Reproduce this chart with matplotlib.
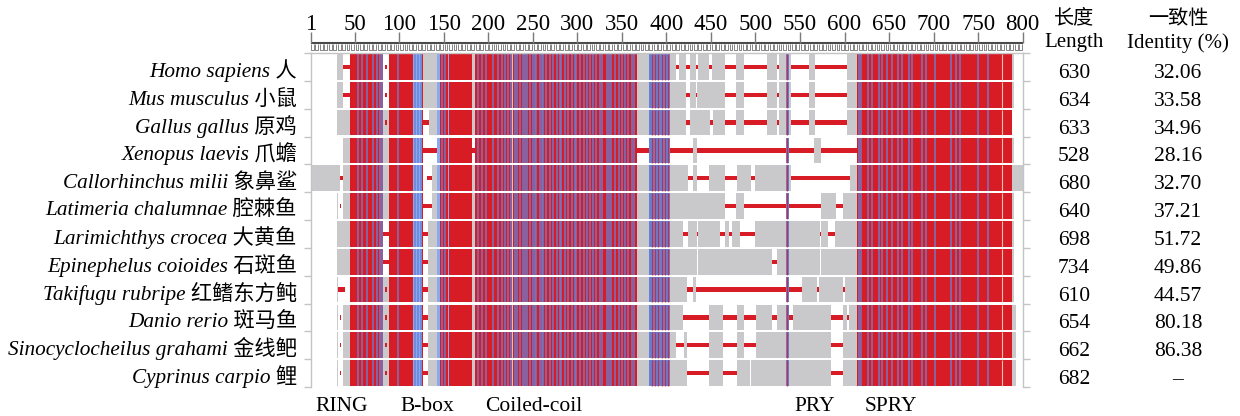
import matplotlib.pyplot as plt
from matplotlib.collections import LineCollection

plt.rcParams['font.family'] = ['Liberation Serif', 'Noto Sans CJK SC']

# species, lengths and identity (%)
species = ["Homo sapiens", "Mus musculus", "Gallus gallus", "Xenopus laevis",
           "Callorhinchus milii", "Latimeria chalumnae", "Larimichthys crocea",
           "Epinephelus coioides", "Takifugu rubripe", "Danio rerio",
           "Sinocyclocheilus grahami", "Cyprinus carpio"]
species_cn = ["人", "小鼠", "原鸡", "爪蟾", "象鼻鲨", "腔棘鱼", "大黄鱼", "石斑鱼",
              "红鳍东方鲀", "斑马鱼", "金线鲃", "鲤"]
lengths = [630, 634, 633, 528, 680, 640, 698, 734, 610, 654, 662, 682]
identity = ["32.06", "33.58", "34.96", "28.16", "32.70", "37.21", "51.72",
            "49.86", "44.57", "80.18", "86.38", "–"]

ruler_ticks = [1, 50, 100, 150, 200, 250, 300, 350, 400, 450, 500, 550,
               600, 650, 700, 750, 800]

# conserved columns (same in every row)
conserved_red = [(45, 82), (88.5, 127), (142, 182), (185, 227), (228, 367), (613.5, 787.5)]
conserved_blue = [(380, 404), (534, 537.5)]
light_blue = [(115.5, 125.5), (142, 145.5), (154.5, 156)]
blue_stripes = [54, 58, 64, 71, 75, 78.5, 81, 99, 118, 121.5, 124, 148, 151,
                188.5, 192.5, 198, 205, 211, 215, 218.5, 222, 225.5,
                230, 232, 236, 239, 241, 244, 247, 250, 252, 254, 258, 260, 262,
                265, 269, 273, 277, 280, 282, 286, 289, 294, 297, 299, 303, 307,
                311, 314, 318, 321, 325, 328, 333, 336, 338, 342, 347, 350, 353,
                357, 361, 364,
                616, 619, 626, 631, 639, 642, 648, 653, 660, 664, 672, 676, 687,
                691, 701, 720, 725, 730, 750, 761]
red_on_blue = [383.7, 387, 390.4, 394.6, 398.3, 401.7, 535.8]
pale_stripes = [777]

# per row: residues present but not conserved (grey) and gaps (thin red)
grey_spans = [
    [(30, 37), (45, 82), (89, 411), (414, 422), (426, 433), (435, 448), (451, 466),
     (478, 487), (513, 524), (526, 540), (560, 567), (603, 790)],
    [(30, 37), (45, 82), (89, 422), (426, 433), (434, 466), (478, 487), (513, 524),
     (526, 540), (560, 567), (603, 790)],
    [(30, 127), (133, 422), (426, 449), (452, 466), (478, 487), (513, 524), (526, 540),
     (560, 567), (603, 788)],
    [(37, 124), (142, 182), (185, 367), (380, 404), (430, 434), (566, 573), (614, 790)],
    [(1, 33.5), (37, 127), (137, 424), (430, 434), (448, 466), (479, 495), (499, 540),
     (606, 800)],
    [(30, 31.5), (37, 127), (137, 466), (478, 487), (573, 590), (598, 790)],
    [(30, 82), (89, 127), (132, 418.5), (424, 434), (435, 460), (466, 470), (473.5, 482.5),
     (499, 572), (573.5, 581), (589, 790)],
    [(30, 82), (89, 127), (132, 434.8), (435.6, 519), (524, 572), (573, 790)],
    [(30, 31.5), (45, 127), (132, 423), (430, 433), (552, 569), (571, 598), (600, 790)],
    [(30, 31.5), (37, 127), (132, 418.5), (448, 464), (479, 487), (501, 519), (524, 534),
     (542, 585), (598, 603), (605, 792)],
    [(30, 31.5), (37, 127), (132, 410.7), (419.7, 423), (448, 464), (479, 487), (501, 585),
     (598, 792)],
    [(30, 31.5), (37, 127), (132, 423), (448, 464), (479, 493.7), (494.6, 585), (598, 792)],
]
gap_spans = [
    [(37, 45), (84, 86), (411, 414), (422, 426), (433, 435), (448, 451), (466, 478),
     (487, 513), (524, 526), (540, 560), (567, 603)],
    [(37, 45), (84, 86), (422, 426), (433, 434), (466, 478), (487, 513), (524, 526),
     (540, 560), (567, 603)],
    [(84, 86), (127, 133), (422, 426), (449, 452), (466, 478), (487, 513), (524, 526),
     (540, 560), (567, 603)],
    [(124, 142), (182, 185), (367, 380), (404, 430), (434, 534), (537, 566), (573, 614)],
    [(33.5, 37), (125.5, 127), (131, 137), (424, 430), (434, 448), (466, 479), (495, 499),
     (540, 606)],
    [(33, 35), (127, 128), (128, 137), (466, 478), (487, 534), (537, 573), (590, 598)],
    [(82, 89), (127, 132), (418.5, 424), (434, 435), (460, 466), (470, 473.5),
     (482.5, 499), (572, 573.5), (581, 589)],
    [(82, 89), (127, 132), (519, 524)],
    [(31.5, 39), (84, 86), (127, 132), (423, 430), (433, 534), (537, 552), (569, 571),
     (598, 600)],
    [(33, 35), (84, 86), (127, 132), (418.5, 448), (464, 479), (487, 501), (519, 524),
     (537, 542), (585, 598), (603, 605)],
    [(33, 35), (84, 86), (127, 132), (410.7, 419.7), (423, 448), (464, 479), (487, 501),
     (585, 598)],
    [(33, 35), (84, 86), (127, 132), (423, 448), (464, 479), (585, 598)],
]

domain_names = ["RING", "B-box", "Coiled-coil", "PRY", "SPRY"]
domain_pos = [5.5, 101, 196, 544, 622]

RED = '#d71c26'
BLUE = '#6680d4'
LBLUE = '#8aaaf0'
GREY = '#c9c9cc'
SPINE = '#c4c4c4'

W, H = 1240, 416
fig = plt.figure(figsize=(W / 100, H / 100), dpi=100)


def fx(px):
    return px / W


def fy(py):
    return 1 - py / H


L, R, T, B = 311, 1022.7, 53, 387
n = len(species)
pitch = (B - T) / n

ax = fig.add_axes([fx(L), fy(B), (R - L) / W, (B - T) / H])
ax.set_xlim(1, 800)
ax.set_ylim(n, 0)

for i in range(n):
    yc = i + 0.5
    for s, e in grey_spans[i]:
        ax.barh(yc, e - s, left=s, height=0.92, color=GREY, lw=0)
    for s, e in gap_spans[i]:
        ax.barh(yc, e - s, left=s, height=0.16, color=RED, lw=0)
    for s, e in conserved_red:
        ax.barh(yc, e - s, left=s, height=0.92, color=RED, lw=0)
    for s, e in conserved_blue:
        ax.barh(yc, e - s, left=s, height=0.92, color=BLUE, lw=0)
    for s, e in light_blue:
        ax.barh(yc, e - s, left=s, height=0.92, color=LBLUE, lw=0)
    ax.vlines(blue_stripes, i + 0.04, i + 0.96, color=BLUE, lw=1.1, alpha=0.9)
    ax.vlines(red_on_blue, i + 0.04, i + 0.96, color=RED, lw=0.9, alpha=0.8)
    ax.vlines(pale_stripes, i + 0.04, i + 0.96, color='#f4c0b0', lw=0.8)

# frame
for side in ['left', 'right', 'top']:
    ax.spines[side].set_color(SPINE)
    ax.spines[side].set_linewidth(1.0)
ax.spines['bottom'].set_visible(False)
ax.set_xticks([])
ax.set_yticks(range(n + 1))
ax.tick_params(axis='y', left=True, right=True, labelleft=False, length=5,
               color=SPINE, width=1.0, direction='out')

# species names, lengths, identities
for i in range(n):
    ybase = T + pitch * (i + 0.5) + 10
    fig.text(fx(297), fy(ybase), f"{species[i]} {species_cn[i]}", ha='right',
             va='baseline', fontsize=15.3, style='italic')
    fig.text(fx(1074), fy(ybase + 1), str(lengths[i]), ha='center', va='baseline',
             fontsize=15.5)
    fig.text(fx(1178), fy(ybase + 1), identity[i], ha='center', va='baseline',
             fontsize=15.5)

fig.text(fx(1074), fy(19), "长度", ha='center', va='center', fontsize=14.5)
fig.text(fx(1074), fy(43), "Length", ha='center', va='center', fontsize=15)
fig.text(fx(1178), fy(19), "一致性", ha='center', va='center', fontsize=14.5)
fig.text(fx(1178), fy(43), "Identity (%)", ha='center', va='center', fontsize=15)

# domain labels under the alignment
for name, p in zip(domain_names, domain_pos):
    ax.text(p, n + (410.7 - B) / pitch, name, ha='left', va='baseline', fontsize=15.5,
            clip_on=False)

# ruler on top
axr = fig.add_axes([fx(L), fy(T), (R - L) / W, T / H])
axr.set_xlim(1, 800)
axr.set_ylim(T, 0)
axr.axis('off')
axr.plot([1, 800], [43.3, 43.3], color='#4a4a4a', lw=1.5, solid_capstyle='butt',
         clip_on=False)
axr.vlines(ruler_ticks, 32, 43.3, color='#7a7a7a', lw=1.0, clip_on=False)
segs = []
for p in range(1, 800, 5):
    segs.append([(p, 44), (p, 50), (p + 3.2, 50), (p + 3.2, 44)])
axr.add_collection(LineCollection(segs, colors='#707070', linewidths=0.6,
                                  clip_on=False))
for t in ruler_ticks:
    axr.text(t, 29.5, str(t), ha='center', va='baseline', fontsize=16.5)

fig.savefig('out.png', dpi=100)
